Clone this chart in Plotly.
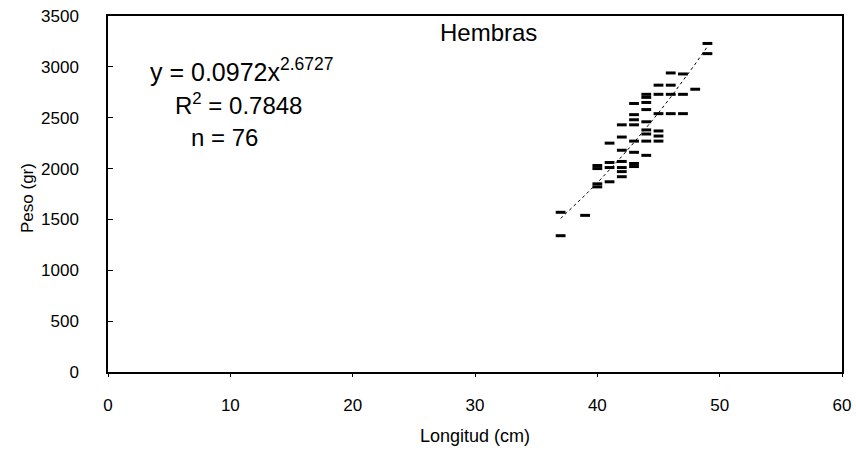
import plotly.graph_objects as go

# Data
longitud = [37, 37, 39,
            40, 40, 40, 40,
            41, 41, 41, 41,
            42, 42, 42, 42, 42, 42, 42,
            43, 43, 43, 43, 43, 43, 43, 43,
            44, 44, 44, 44, 44, 44, 44, 44, 44,
            45, 45, 45, 45, 45, 45,
            46, 46, 46, 46,
            47, 47, 47,
            48,
            49, 49]
peso = [1570, 1340, 1540,
        2030, 2000, 1850, 1820,
        2250, 2060, 2010, 1870,
        2430, 2310, 2180, 2070, 2010, 1970, 1920,
        2640, 2530, 2480, 2430, 2270, 2160, 2050, 2020,
        2730, 2700, 2650, 2580, 2460, 2380, 2340, 2270, 2130,
        2820, 2730, 2540, 2370, 2320, 2270,
        2940, 2820, 2730, 2540,
        2930, 2730, 2540,
        2780,
        3230, 3130]

coef_a = 0.0972
coef_b = 2.6727
trend_x = [37, 38, 39, 40, 41, 42, 43, 44, 45, 46, 47, 48, 49]
trend_y = [coef_a * x ** coef_b for x in trend_x]

x_ticks = [0, 10, 20, 30, 40, 50, 60]
y_ticks = [0, 500, 1000, 1500, 2000, 2500, 3000, 3500]

FONT = "Liberation Sans, Arial, sans-serif"
W, H = 856, 454
ML, MR, MT, MB = 108, 14, 16, 82
PW, PH = W - ML - MR, H - MT - MB

fig = go.Figure()
fig.add_trace(go.Scatter(
    x=trend_x, y=trend_y, mode="lines",
    line=dict(color="black", width=1, dash="dot"),
    hoverinfo="skip", showlegend=False))
fig.add_trace(go.Scatter(
    x=longitud, y=peso, mode="markers",
    marker=dict(symbol="line-ew", size=7, line=dict(color="black", width=3)),
    showlegend=False))

fig.update_layout(
    width=W, height=H,
    margin=dict(l=ML, r=MR, t=MT, b=MB, autoexpand=False),
    paper_bgcolor="white", plot_bgcolor="white",
    font=dict(family=FONT, color="black", size=17),
)
fig.update_xaxes(
    range=[0, 60], tickvals=x_ticks, ticktext=[str(v) for v in x_ticks],
    showgrid=False, zeroline=False, showline=True, linecolor="black", linewidth=1.5,
    mirror=True, ticks="outside", ticklen=3, tickcolor="black", automargin=False,
    tickfont=dict(size=17, family=FONT), ticklabelstandoff=14,
    ticklabeloverflow="allow",
)
fig.update_yaxes(
    range=[0, 3500], tickvals=y_ticks, ticktext=[str(v) for v in y_ticks],
    showgrid=False, zeroline=False, showline=True, linecolor="black", linewidth=1.5,
    mirror=True, ticks="inside", ticklen=5, tickcolor="black", automargin=False,
    tickfont=dict(size=17, family=FONT), ticklabelstandoff=24,
    ticklabeloverflow="allow",
)


def add_text(text, px, py, size, anchor="center", angle=0):
    fig.add_annotation(
        text=text, x=(px - ML) / PW, y=(H - MB - py) / PH,
        xref="paper", yref="paper", xanchor=anchor, yanchor="middle",
        textangle=angle, showarrow=False,
        font=dict(size=size, family=FONT, color="black"))


add_text("y = 0.0972x<sup>2.6727</sup>", 148, 70, 25, anchor="left")
add_text("R<sup>2</sup> = 0.7848", 238, 104, 24)
add_text("n = 76", 224, 137, 24)
add_text("Hembras", 489, 32, 24)
add_text("Longitud (cm)", 475, 436, 18)
add_text("Peso (gr)", 27, 198, 17, angle=-90)

fig.write_html(
    "out.html",
    config={"displayModeBar": False},
    post_script="document.body.style.margin='0';document.body.style.padding='0';"
                "document.documentElement.style.overflow='hidden';",
)
